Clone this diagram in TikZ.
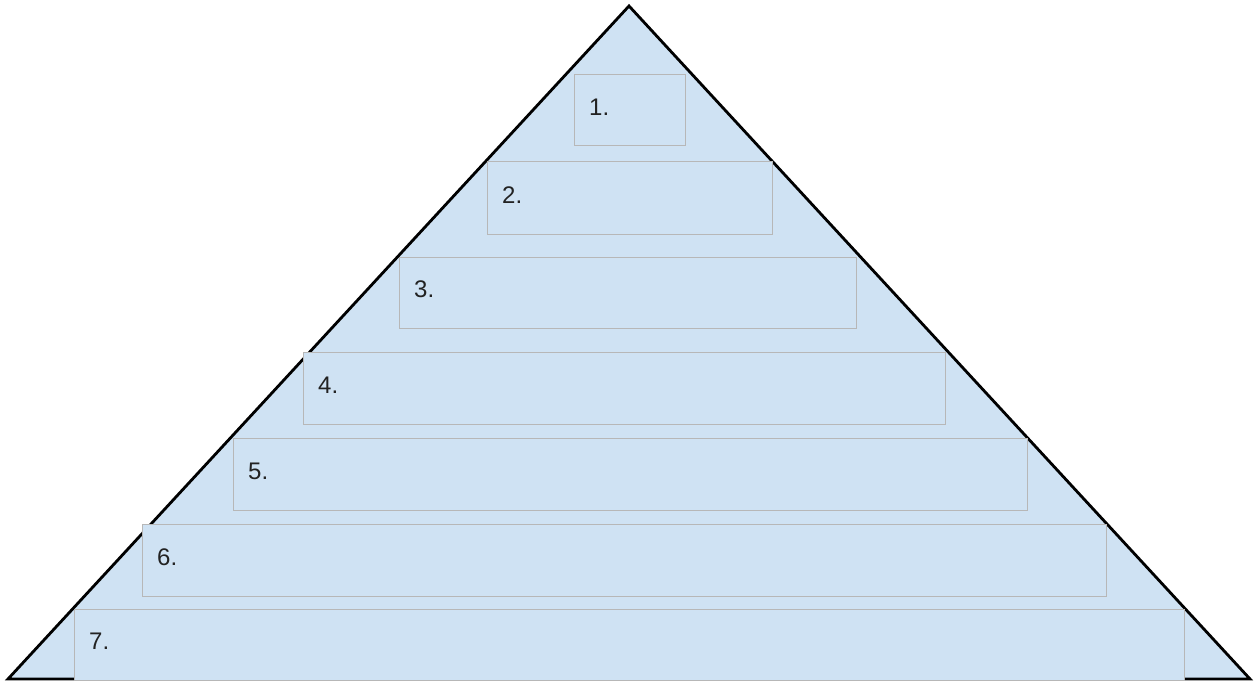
\documentclass[tikz,border=0pt]{standalone}
\usepackage{fontspec}
\setmainfont{Liberation Sans}
\usetikzlibrary{positioning,calc}

\definecolor{tierblue}{HTML}{CFE2F3}
\definecolor{tiergray}{HTML}{B7B7B7}
\definecolor{inkgray}{HTML}{222222}

\begin{document}
\begin{tikzpicture}[
  x=1pt, y=-1pt,
  tier/.style={draw=tiergray, line width=1pt, fill=tierblue, inner sep=0pt, outer sep=0pt},
  tierlabel/.style={font=\fontsize{24}{28}\selectfont, text=inkgray, inner sep=0pt, anchor=west},
]
  \useasboundingbox (0,0) rectangle (1259,682);

  % pyramid outline
  \coordinate (apex) at (629,6);
  \coordinate (bl) at (8,679);
  \coordinate (br) at (1250,679);
  \draw[line width=2.8pt, line join=miter, fill=tierblue] (apex) -- (bl) -- (br) -- cycle;

  % the seven tiers, top to bottom
  \foreach \n/\l/\t/\r/\b in {1/574/75/685/146, 2/487/162/772/234, 3/399/257/856/328,
                              4/303/352/945/424, 5/233/438/1027/510, 6/142/524/1106/596,
                              7/74/609/1184/680} {
    \node[tier, anchor=north west, minimum width={(\r-\l)*1pt}, minimum height={(\b-\t)*1pt}]
      (b\n) at (\l,\t) {};
    \node[tierlabel] (l\n) at ([xshift=15pt, yshift=3pt]b\n.west) {\n.};
  }
\end{tikzpicture}
\end{document}
